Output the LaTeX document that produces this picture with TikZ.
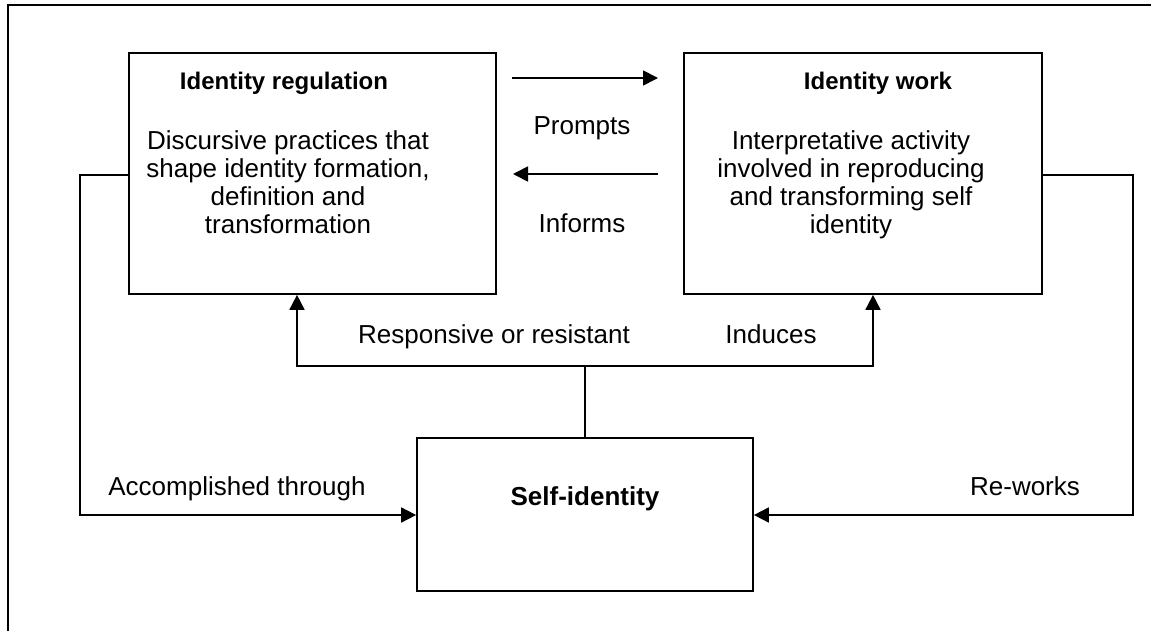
\documentclass[tikz,border=0pt]{standalone}
\usepackage{fontspec}
\setmainfont{Liberation Sans}
\usetikzlibrary{arrows.meta}
\begin{document}
\begin{tikzpicture}[x=1pt,y=-1pt,
  box/.style={draw,line width=1.7pt,inner sep=0pt},
  txt/.style={font=\fontsize{26}{28}\selectfont,align=center,inner sep=0pt},
  ttl/.style={font=\fontsize{24}{28}\selectfont\bfseries,inner sep=0pt},
  bigttl/.style={font=\fontsize{26}{28}\selectfont\bfseries,inner sep=0pt},
  conn/.style={line width=1.7pt},
  arr/.style={line width=1.7pt,-{Triangle[length=15pt,width=15pt]}}]
\useasboundingbox (0,0) rectangle (1154,631);
% frame
\draw[line width=2.4pt] (8,631) -- (8,5) -- (1151,5);
% boxes
\node[box,minimum width=367pt,minimum height=241pt] (reg) at (312.5,173.5) {};
\node[box,minimum width=358pt,minimum height=241pt] (work) at (863,173.5) {};
\node[box,minimum width=336pt,minimum height=153pt] (self) at (585,514.5) {};
% box texts
\node[ttl,anchor=base] (regt) at (284,90) {Identity regulation};
\node[txt,anchor=north] (regb) at (288,130.5) {Discursive practices that\\shape identity formation,\\definition and\\transformation};
\node[ttl,anchor=base] (workt) at (878,90) {Identity work};
\node[txt,anchor=north] (workb) at (851,130.5) {Interpretative activity\\involved in reproducing\\and transforming self\\identity};
\node[bigttl,anchor=base] (selft) at (585,505) {Self-identity};
% arrows between top boxes
\coordinate (p1) at (512,78);
\coordinate (p2) at (658,78);
\coordinate (i1) at (658,174);
\coordinate (i2) at (513,174);
\draw[arr] (p1) -- (p2);
\draw[arr] (i1) -- (i2);
\node[txt,anchor=base] (prompts) at (582,135) {Prompts};
\node[txt,anchor=base] (informs) at (582,233) {Informs};
% self-identity upward branches
\coordinate (j) at (585,366);
\draw[conn] (self.north) -- (j);
\draw[arr] (j) -| (reg.south -| 297,0);
\draw[arr] (j) -| (work.south -| 873,0);
\node[txt,anchor=base] (resp) at (494,343) {Responsive or resistant};
\node[txt,anchor=base] (ind) at (771,343) {Induces};
% side loops into self-identity
\coordinate (lc) at (80,175);
\coordinate (rc) at (1133,175);
\draw[arr] (reg.west |- lc) -- (lc) |- (self.west |- 0,515);
\draw[arr] (work.east |- rc) -- (rc) |- (self.east |- 0,515);
\node[txt,anchor=base] (acc) at (237,495) {Accomplished through};
\node[txt,anchor=base] (rew) at (1025,495) {Re-works};
\end{tikzpicture}
\end{document}
